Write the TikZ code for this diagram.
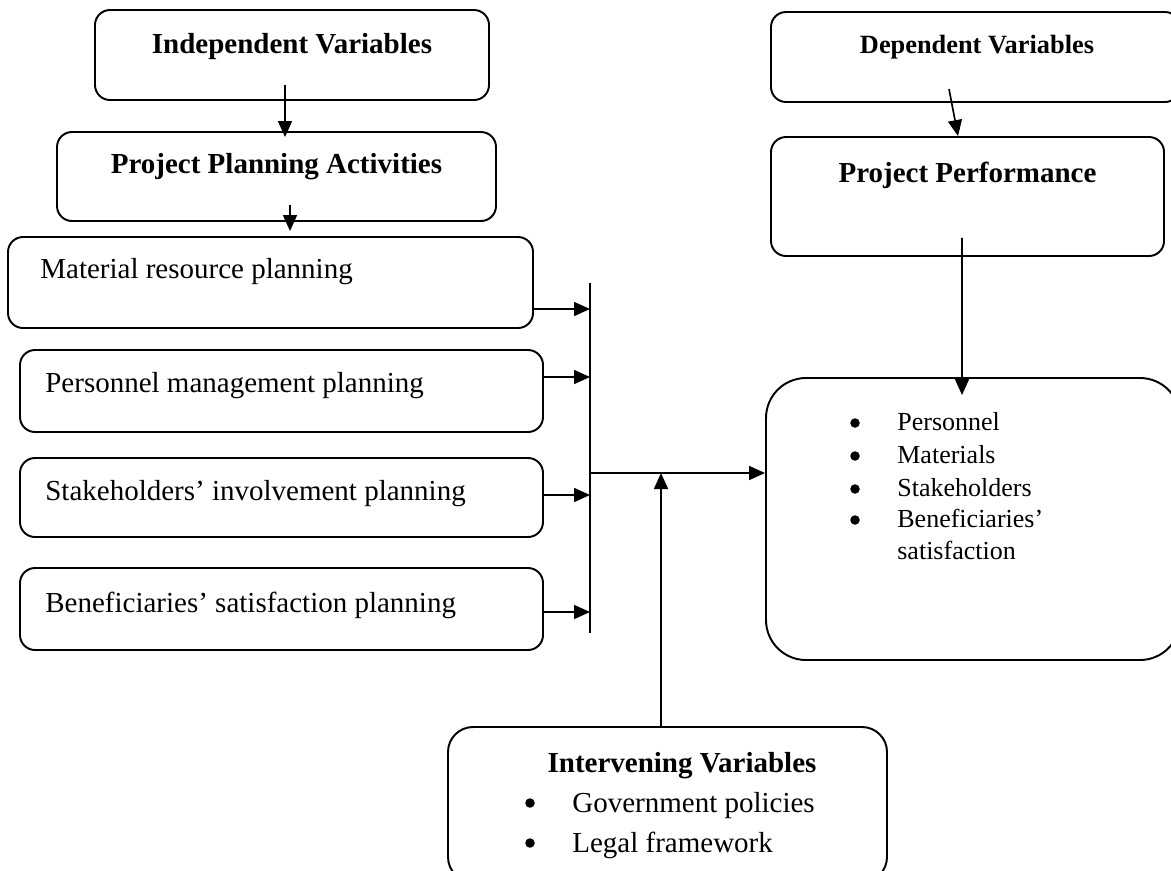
\documentclass[tikz,border=0pt]{standalone}
\usepackage{fontspec}
\setmainfont{Liberation Serif}
\usetikzlibrary{arrows.meta, positioning}
\tikzset{
    % Rounded frames around the variable groups
    frame/.style={draw, line width=1.1pt, rounded corners=0.3cm, inner sep=0pt},
    % Bold headings inside the frames
    heading/.style={font=\fontsize{16.5}{20}\selectfont\bfseries, inner sep=0pt, anchor=base},
    % Plain entries, left aligned on their baseline
    entry/.style={font=\fontsize{16.5}{20}\selectfont, inner sep=0pt, anchor=base west},
    % Smaller entries of the outcome list
    small entry/.style={font=\fontsize{14.8}{18}\selectfont, inner sep=0pt, anchor=base west},
    % Bullet marks
    dot/.style={circle, fill, inner sep=0pt, minimum size=0.19cm},
    % Connectors with a filled triangle head
    link/.style={line width=0.95pt, -{Triangle[length=0.32cm, width=0.28cm]}},
    % Plain collecting bar
    bar/.style={line width=0.95pt}
}

\begin{document}
\begin{tikzpicture}
    \useasboundingbox (0,0) rectangle (23.42,-17.40);

    % --- Independent side ---
    \node[frame, minimum width=7.88cm, minimum height=1.80cm] (indep) at (5.84,-1.10) {};
    \node[heading] (indepT) at (5.84,-1.06) {Independent Variables};

    \node[frame, minimum width=8.78cm, minimum height=1.78cm] (plan) at (5.53,-3.53) {};
    \node[heading] (planT) at (5.53,-3.46) {Project Planning Activities};

    % Planning activities
    \node[frame, minimum width=10.50cm, minimum height=1.82cm] (material) at (5.41,-5.65) {};
    \node[entry] (materialT) at (0.80,-5.56) {Material resource planning};

    \node[frame, minimum width=10.46cm, minimum height=1.64cm] (personnel) at (5.63,-7.82) {};
    \node[entry] (personnelT) at (0.90,-7.84) {Personnel management planning};

    \node[frame, minimum width=10.46cm, minimum height=1.58cm] (stake) at (5.63,-9.95) {};
    \node[entry] (stakeT) at (0.90,-10.00) {Stakeholders’ involvement planning};

    \node[frame, minimum width=10.46cm, minimum height=1.64cm] (benef) at (5.63,-12.18) {};
    \node[entry] (benefT) at (0.90,-12.24) {Beneficiaries’ satisfaction planning};

    % --- Dependent side ---
    \node[frame, minimum width=8.18cm, minimum height=1.80cm] (dep) at (19.51,-1.14) {};
    \node[heading, font=\fontsize{15}{18}\selectfont\bfseries] (depT) at (19.54,-1.06) {Dependent Variables};

    \node[frame, minimum width=7.86cm, minimum height=2.38cm] (perf) at (19.35,-3.93) {};
    \node[heading] (perfT) at (19.35,-3.64) {Project Performance};

    \node[frame, rounded corners=0.8cm, minimum width=8.28cm, minimum height=5.64cm] (result) at (19.46,-10.38) {};
    \node[dot] (d1) at (17.10,-8.46) {};
    \node[dot] (d2) at (17.10,-9.12) {};
    \node[dot] (d3) at (17.10,-9.78) {};
    \node[dot] (d4) at (17.10,-10.40) {};
    \node[small entry] (r1) at (17.94,-8.60) {Personnel};
    \node[small entry] (r2) at (17.94,-9.26) {Materials};
    \node[small entry] (r3) at (17.94,-9.92) {Stakeholders};
    \node[small entry] (r4) at (17.94,-10.54) {Beneficiaries’};
    \node[small entry] (r5) at (17.94,-11.18) {satisfaction};

    % --- Intervening variables ---
    \node[frame, rounded corners=0.5cm, minimum width=8.78cm, minimum height=3.10cm] (interv) at (13.35,-16.09) {};
    \node[heading] (intervT) at (13.64,-15.44) {Intervening Variables};
    \node[dot] (e1) at (10.60,-16.06) {};
    \node[dot] (e2) at (10.60,-16.86) {};
    \node[entry] (g1) at (11.44,-16.24) {Government policies};
    \node[entry] (g2) at (11.44,-17.04) {Legal framework};

    % --- Connectors ---
    \draw[link] ([xshift=-0.14cm, yshift=0.32cm]indep.south) -- ([xshift=0.17cm, yshift=-0.12cm]plan.north);
    \draw[link] ([xshift=0.27cm, yshift=0.34cm]plan.south) -- ([xshift=0.39cm, yshift=0.10cm]material.north);

    % collecting bar and the join point on it
    \coordinate (bartop) at (11.80,-5.66);
    \coordinate (barbot) at (11.80,-12.66);
    \coordinate (join) at (11.80,-9.46);
    \draw[bar] (bartop) -- (barbot);

    \foreach \src/\dy in {material/-0.53, personnel/0.28, stake/0.05, benef/-0.06}
        \draw[link] ([yshift=\dy cm]\src.east) coordinate (from) -- (from -| bartop);

    \draw[link] (join) -- (join -| result.west);
    \draw[link] ([xshift=-0.13cm]interv.north) coordinate (up) -- (up |- join);

    \draw[link] ([xshift=-0.53cm, yshift=0.28cm]dep.south) -- ([xshift=-0.19cm]perf.north);
    \draw[link] ([xshift=-0.11cm, yshift=0.38cm]perf.south) -- ([xshift=-0.22cm, yshift=-0.36cm]result.north);

\end{tikzpicture}
\end{document}
